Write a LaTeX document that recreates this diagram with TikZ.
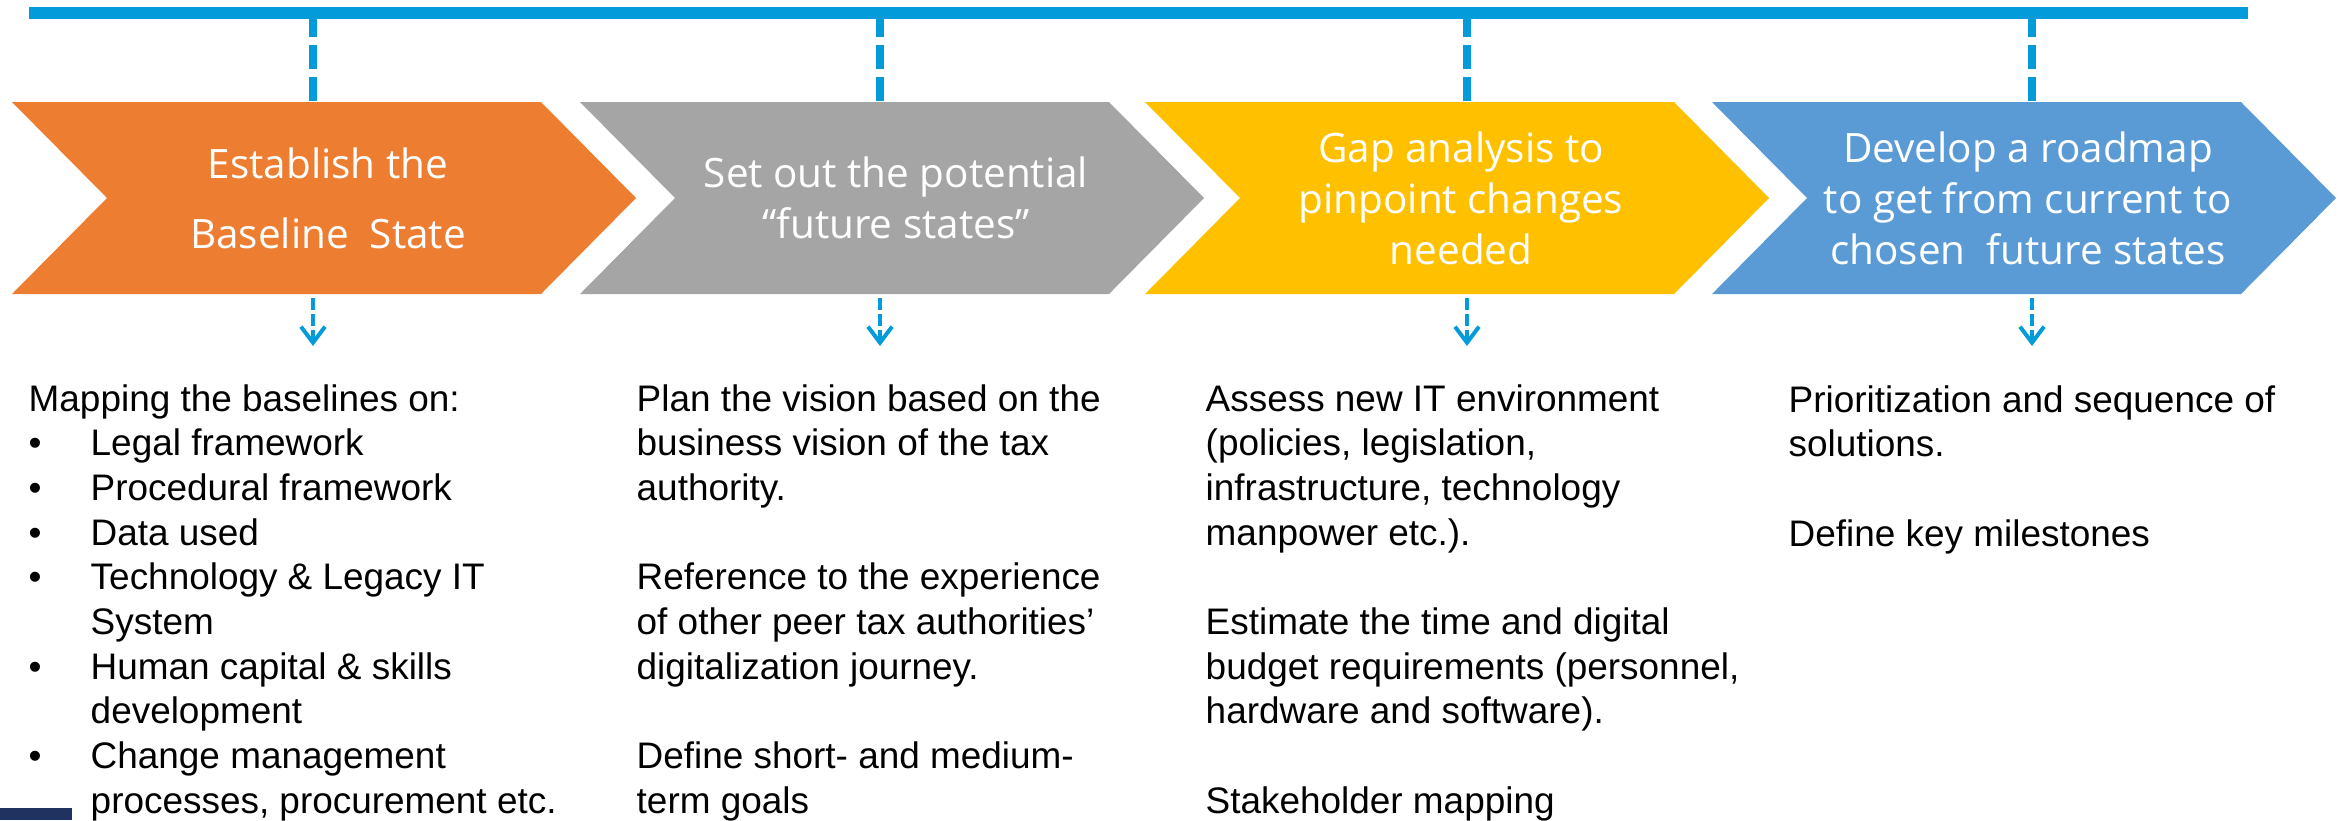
\documentclass[tikz,border=0pt]{standalone}
\usepackage{fontspec}
\setmainfont{Liberation Sans}
\newfontfamily\stagefont{Open Sans}
\definecolor{barblue}{RGB}{3,155,217}
\definecolor{stageorange}{RGB}{237,125,49}
\definecolor{stagegrey}{RGB}{165,165,165}
\definecolor{stagegold}{RGB}{255,192,0}
\definecolor{stageblue}{RGB}{91,155,213}
\definecolor{darknavy}{RGB}{31,50,96}
\usetikzlibrary{arrows.meta}
\newcommand{\bitem}{\makebox[1.68em][l]{\textbullet}}
\newcommand{\bcont}{\hspace*{1.68em}}
\tikzset{
  % one arrow-shaped stage of the plan
  pics/chevron/.style={
    code={
      \path [pic actions] (0,0) -- (529,0) -- (624,96) -- (529,192) -- (0,192) -- (95,96) -- cycle;
    }
  },
  stage/.style={text=white, align=center, inner sep=0pt, minimum height=1.92cm,
    font=\stagefont\fontsize{11.5}{14.5}\selectfont},
  % body text hangs from the baseline of its last line
  body/.style={anchor=base west, align=left, inner sep=0pt,
    font=\fontsize{10.5}{12.7}\selectfont},
  tick/.style={barblue, line width=0.08cm, dash pattern=on 0.24cm off 0.08cm},
  drop/.style={barblue, line width=0.04cm, dash pattern=on 0.12cm off 0.04cm,
    -{Straight Barb[length=0.16cm, width=0.24cm]}, shorten <=0.03cm}
}

\begin{document}
\begin{tikzpicture}[x=0.01cm, y=-0.01cm]
  \useasboundingbox (0,0) rectangle (2352,820);

  \coordinate (bar-w) at (29,13);
  \coordinate (bar-e) at (2248,13);
  \draw [barblue, line width=0.12cm] (bar-w) -- (bar-e);

  \pic [fill=stageorange] at (12,102) {chevron};
  \pic [fill=stagegrey] at (580,102) {chevron};
  \pic [fill=stagegold] at (1145,102) {chevron};
  \pic [fill=stageblue] at (1712,102) {chevron};

  \node [stage, font=\stagefont\fontsize{11.5}{19.9}\selectfont] (s1) at (328,198) {Establish the\\Baseline~ State};
  \node [stage] (s2) at (896,198) {Set out the potential\\“future states”};
  \node [stage] (s3) at (1461,198) {Gap analysis to\\pinpoint changes\\needed};
  \node [stage] (s4) at (2028,198) {Develop a roadmap\\to get from current to\\chosen~ future states};

  % ticks from the time line down to each stage
  \coordinate (t1) at (313,13);
  \coordinate (t2) at (880,13);
  \coordinate (t3) at (1467,13);
  \coordinate (t4) at (2032,13);
  \foreach \i in {1,...,4} {
    \draw [tick] (t\i |- s\i.north) -- (t\i);
  }

  \coordinate (d1) at (313,346);
  \coordinate (d2) at (880,346);
  \coordinate (d3) at (1467,346);
  \coordinate (d4) at (2032,346);
  \foreach \i in {1,...,4} {
    \draw [drop] (t\i |- s\i.south) -- (d\i);
  }

  \node [body] (c1) at (28,813) {Mapping the baselines on:\\
    \bitem Legal framework\\
    \bitem Procedural framework\\
    \bitem Data used\\
    \bitem Technology \& Legacy IT\\
    \bcont System\\
    \bitem Human capital \& skills\\
    \bcont development\\
    \bitem Change management\\
    \bcont processes, procurement etc.};
  \node [body] (c2) at (636,813) {Plan the vision based on the\\
    business vision of the tax\\
    authority.\\[12.7pt]
    Reference to the experience\\
    of other peer tax authorities’\\
    digitalization journey.\\[12.7pt]
    Define short- and medium-\\
    term goals};
  \node [body] (c3) at (1205,813) {Assess new IT environment\\
    (policies, legislation,\\
    infrastructure, technology\\
    manpower etc.).\\[12.7pt]
    Estimate the time and digital\\
    budget requirements (personnel,\\
    hardware and software).\\[12.7pt]
    Stakeholder mapping};
  \node [body] (c4) at (1788,546) {Prioritization and sequence of\\
    solutions.\\[12.7pt]
    Define key milestones};

  \fill [darknavy] (0,808) rectangle (72,820);
\end{tikzpicture}
\end{document}
